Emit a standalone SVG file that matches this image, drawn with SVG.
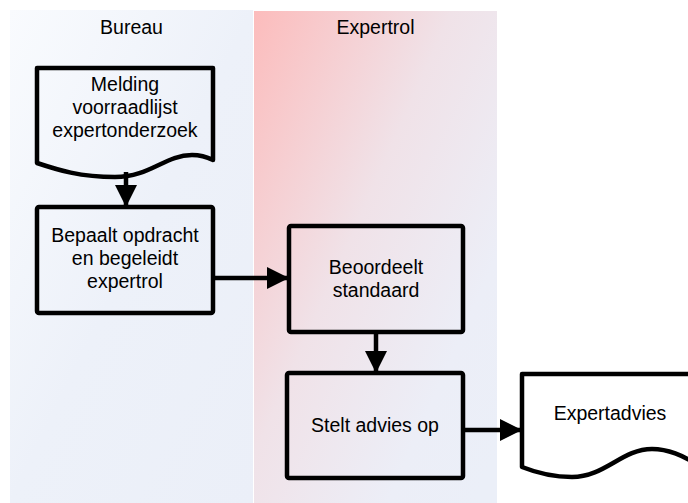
<svg xmlns="http://www.w3.org/2000/svg" width="688" height="503" viewBox="0 0 688 503">
<defs>
<linearGradient id="g1" x1="0" y1="0" x2="1" y2="1">
<stop offset="0" stop-color="#f9fbfe"/>
<stop offset="0.5" stop-color="#edf1f9"/>
<stop offset="1" stop-color="#ebeff8"/>
</linearGradient>
<linearGradient id="g2" x1="0" y1="0" x2="1" y2="0.9">
<stop offset="0" stop-color="#fcbcbc"/>
<stop offset="0.45" stop-color="#f0e2e8"/>
<stop offset="0.8" stop-color="#eceef7"/>
<stop offset="1" stop-color="#ebeff8"/>
</linearGradient>
<marker id="ah" viewBox="0 0 10 10" refX="10" refY="5" markerWidth="5" markerHeight="5" markerUnits="strokeWidth" orient="auto">
<path d="M0,0 L10,5 L0,10 Z" fill="#000"/>
</marker>
<style>
.t{font-family:"Liberation Sans",Arial,sans-serif;font-size:19.5px;fill:#000;text-anchor:middle}
.s{fill:none;stroke:#000;stroke-width:4.5;stroke-linejoin:round}
.c{fill:none;stroke:#000;stroke-width:4.5}
</style>
</defs>
<g id="lanes">
<rect x="10" y="10" width="243" height="493" fill="url(#g1)"/>
<rect x="254" y="11" width="243" height="492" fill="url(#g2)"/>
<text class="t" x="131.5" y="34">Bureau</text>
<text class="t" x="375.5" y="34">Expertrol</text>
</g>
<g id="connectors">
<line class="c" x1="126" y1="172" x2="126" y2="207" marker-end="url(#ah)"/>
<line class="c" x1="213" y1="278" x2="289" y2="278" marker-end="url(#ah)"/>
<line class="c" x1="376" y1="332" x2="376" y2="373" marker-end="url(#ah)"/>
<line class="c" x1="463" y1="430" x2="522" y2="430" marker-end="url(#ah)"/>
</g>
<g id="melding">
<path class="s" d="M37,68 H213 V160 C205,156 200,155 192,155 C165,155 150,177 115,177 C80,177 58,170 37,163 Z"/>
<text class="t" x="125" y="91">Melding</text>
<text class="t" x="125" y="114">voorraadlijst</text>
<text class="t" x="125" y="137">expertonderzoek</text>
</g>
<g id="bepaalt">
<rect class="s" x="37" y="207" width="176" height="106" rx="2"/>
<text class="t" x="125" y="242">Bepaalt opdracht</text>
<text class="t" x="125" y="265">en begeleidt</text>
<text class="t" x="125" y="288">expertrol</text>
</g>
<g id="beoordeelt">
<rect class="s" x="289" y="226" width="174" height="106" rx="2"/>
<text class="t" x="376" y="274">Beoordeelt</text>
<text class="t" x="376" y="297">standaard</text>
</g>
<g id="stelt">
<rect class="s" x="287" y="373" width="176" height="105" rx="2"/>
<text class="t" x="375" y="432">Stelt advies op</text>
</g>
<g id="expertadvies">
<path class="s" d="M522,374 H700 V466 C682,455 668,449 652,449 C622,449 605,477 572,477 C552,477 537,473 522,467 Z"/>
<text class="t" x="610" y="420">Expertadvies</text>
</g>
</svg>
